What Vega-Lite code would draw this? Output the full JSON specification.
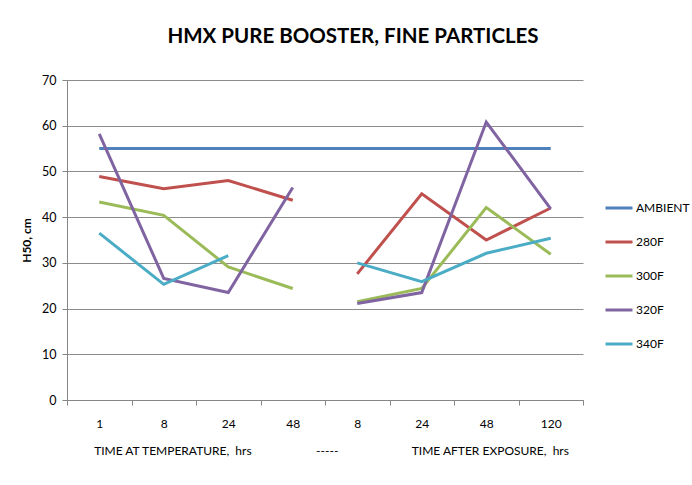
{
  "$schema": "https://vega.github.io/schema/vega-lite/v6.json",
  "autosize": "none",
  "width": 516,
  "height": 320,
  "padding": {"left": 67, "top": 80, "right": 109, "bottom": 85},
  "background": "white",
  "config": {
    "font": "Lato, sans-serif",
    "view": {"stroke": null}
  },
  "title": {
    "text": "HMX PURE BOOSTER, FINE PARTICLES",
    "font": "Lato, sans-serif",
    "fontSize": 20.5,
    "fontWeight": "bold",
    "color": "#000000",
    "anchor": "middle",
    "dx": 28,
    "offset": 27
  },
  "data": {
    "values": [
      {"t": "T1", "series": "AMBIENT", "seg": "all", "h50": 55},
      {"t": "T8", "series": "AMBIENT", "seg": "all", "h50": 55},
      {"t": "T24", "series": "AMBIENT", "seg": "all", "h50": 55},
      {"t": "T48", "series": "AMBIENT", "seg": "all", "h50": 55},
      {"t": "E8", "series": "AMBIENT", "seg": "all", "h50": 55},
      {"t": "E24", "series": "AMBIENT", "seg": "all", "h50": 55},
      {"t": "E48", "series": "AMBIENT", "seg": "all", "h50": 55},
      {"t": "E120", "series": "AMBIENT", "seg": "all", "h50": 55},

      {"t": "T1", "series": "280F", "seg": "temp", "h50": 48.9},
      {"t": "T8", "series": "280F", "seg": "temp", "h50": 46.2},
      {"t": "T24", "series": "280F", "seg": "temp", "h50": 48.0},
      {"t": "T48", "series": "280F", "seg": "temp", "h50": 43.7},
      {"t": "E8", "series": "280F", "seg": "exp", "h50": 27.6},
      {"t": "E24", "series": "280F", "seg": "exp", "h50": 45.1},
      {"t": "E48", "series": "280F", "seg": "exp", "h50": 35.0},
      {"t": "E120", "series": "280F", "seg": "exp", "h50": 42.0},

      {"t": "T1", "series": "300F", "seg": "temp", "h50": 43.3},
      {"t": "T8", "series": "300F", "seg": "temp", "h50": 40.4},
      {"t": "T24", "series": "300F", "seg": "temp", "h50": 29.1},
      {"t": "T48", "series": "300F", "seg": "temp", "h50": 24.4},
      {"t": "E8", "series": "300F", "seg": "exp", "h50": 21.5},
      {"t": "E24", "series": "300F", "seg": "exp", "h50": 24.4},
      {"t": "E48", "series": "300F", "seg": "exp", "h50": 42.1},
      {"t": "E120", "series": "300F", "seg": "exp", "h50": 31.9},

      {"t": "T1", "series": "320F", "seg": "temp", "h50": 58.2},
      {"t": "T8", "series": "320F", "seg": "temp", "h50": 26.6},
      {"t": "T24", "series": "320F", "seg": "temp", "h50": 23.5},
      {"t": "T48", "series": "320F", "seg": "temp", "h50": 46.5},
      {"t": "E8", "series": "320F", "seg": "exp", "h50": 21.1},
      {"t": "E24", "series": "320F", "seg": "exp", "h50": 23.5},
      {"t": "E48", "series": "320F", "seg": "exp", "h50": 60.8},
      {"t": "E120", "series": "320F", "seg": "exp", "h50": 41.8},

      {"t": "T1", "series": "340F", "seg": "temp", "h50": 36.5},
      {"t": "T8", "series": "340F", "seg": "temp", "h50": 25.3},
      {"t": "T24", "series": "340F", "seg": "temp", "h50": 31.6},
      {"t": "E8", "series": "340F", "seg": "exp", "h50": 30.0},
      {"t": "E24", "series": "340F", "seg": "exp", "h50": 25.9},
      {"t": "E48", "series": "340F", "seg": "exp", "h50": 32.1},
      {"t": "E120", "series": "340F", "seg": "exp", "h50": 35.4}
    ]
  },
  "mark": {"type": "line", "strokeWidth": 3, "strokeCap": "butt", "strokeJoin": "miter"},
  "encoding": {
    "x": {
      "field": "t",
      "type": "ordinal",
      "sort": ["T1", "T8", "T24", "T48", "E8", "E24", "E48", "E120"],
      "scale": {"paddingInner": 0, "paddingOuter": 0},
      "axis": {
        "labelExpr": "slice(datum.label, 1)",
        "labelAngle": 0,
        "labelFontSize": 12,
        "labelColor": "#000000",
        "labelPadding": 13,
        "tickBand": "extent",
        "tickSize": 5,
        "tickColor": "#868686",
        "domainColor": "#868686",
        "grid": false,
        "title": "TIME AT TEMPERATURE,\u00a0 hrs\u00a0\u00a0\u00a0\u00a0\u00a0\u00a0\u00a0\u00a0\u00a0\u00a0\u00a0\u00a0\u00a0\u00a0\u00a0\u00a0\u00a0\u00a0\u00a0\u00a0\u00a0-----\u00a0\u00a0\u00a0\u00a0\u00a0\u00a0\u00a0\u00a0\u00a0\u00a0\u00a0\u00a0\u00a0\u00a0\u00a0\u00a0\u00a0\u00a0\u00a0\u00a0\u00a0\u00a0\u00a0\u00a0TIME AFTER EXPOSURE,\u00a0 hrs",
        "titleFontSize": 12,
        "titleFontWeight": "normal",
        "titleColor": "#000000",
        "titlePadding": 16,
        "titleX": 264,
        "titleAnchor": "middle"
      }
    },
    "y": {
      "field": "h50",
      "type": "quantitative",
      "scale": {"domain": [0, 70], "nice": false},
      "axis": {
        "values": [0, 10, 20, 30, 40, 50, 60, 70],
        "labelFontSize": 12.5,
        "labelColor": "#000000",
        "labelPadding": 6,
        "tickSize": 5,
        "tickColor": "#868686",
        "domainColor": "#868686",
        "gridColor": "#8c8c8c",
        "gridWidth": 1,
        "title": "H50, cm",
        "titleFontSize": 12,
        "titleFontWeight": "bold",
        "titleColor": "#000000",
        "titlePadding": 8
      }
    },
    "color": {
      "field": "series",
      "type": "nominal",
      "scale": {
        "domain": ["AMBIENT", "280F", "300F", "320F", "340F"],
        "range": ["#4F81BD", "#C0504D", "#9BBB59", "#8064A2", "#4BACC6"]
      },
      "legend": {
        "title": null,
        "orient": "none",
        "legendX": 537,
        "legendY": 113,
        "symbolType": "stroke",
        "symbolSize": 729,
        "symbolStrokeWidth": 3,
        "labelFontSize": 12,
        "labelColor": "#000000",
        "labelOffset": 2,
        "rowPadding": 13
      }
    },
    "detail": {"field": "seg"}
  }
}
